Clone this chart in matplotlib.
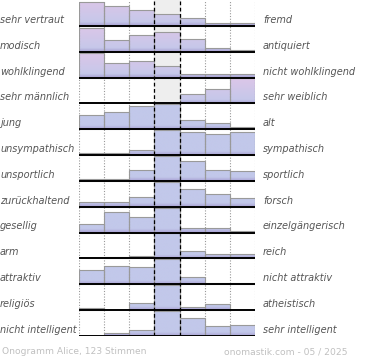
import numpy as np
import matplotlib
matplotlib.use("Agg")
import matplotlib.pyplot as plt
from matplotlib.path import Path
from matplotlib.patches import PathPatch, Rectangle

# =====================
# DATA
# =====================
left_labels = ["sehr vertraut", "modisch", "wohlklingend", "sehr männlich", "jung",
               "unsympathisch", "unsportlich", "zurückhaltend", "gesellig", "arm",
               "attraktiv", "religiös", "nicht intelligent"]
right_labels = ["fremd", "antiquiert", "nicht wohlklingend", "sehr weiblich", "alt",
                "sympathisch", "sportlich", "forsch", "einzelgängerisch", "reich",
                "nicht attraktiv", "atheistisch", "sehr intelligent"]

# bar heights per row (7 bins, max = 25)
values = [
    [24, 20, 16, 12, 8, 3, 3],
    [24, 12, 17, 20, 13, 4, 2],
    [24, 14, 16, 12, 3.5, 3.5, 3.5],
    [0, 0, 0, 0, 9, 14, 25],
    [14, 17, 23, 25, 9, 6, 2],
    [2, 2, 5, 25, 23, 21, 23],
    [2, 2, 11, 25, 20, 11, 10],
    [5, 5, 10, 25, 18, 13, 9],
    [9, 21, 16, 25, 5, 5, 1.5],
    [0, 1, 2, 25, 7, 4, 4],
    [14, 18, 17, 25, 7, 1.5, 1.5],
    [2, 0, 7, 25, 3, 6, 0],
    [0, 3, 6, 25, 18, 10, 11],
]
footer_left = "Onogramm Alice, 123 Stimmen"
footer_right = "onomastik.com - 05 / 2025"

# =====================
# FIGURE
# =====================
W, H = 370, 360
fig = plt.figure(figsize=(W / 100, H / 100), dpi=100)
ax = fig.add_axes([79 / W, 1 - 336 / H, 176 / W, 336 / H])
nrows = len(values)
ax.set_xlim(0, 7)
ax.set_ylim(0, nrows)
ax.axis("off")

ax.axvspan(3, 4, color="#eeeeee", zorder=0)

# gradient image: pink-ish in top rows, blue below, darker band at bottom of each row
pink = np.array([220, 198, 232]) / 255
blue = np.array([194, 200, 234]) / 255
dark = np.array([168, 160, 210]) / 255
res = 100
img = np.zeros((nrows * res, 1, 3))
for r in range(nrows):
    t = np.linspace(0, 1, res)
    if r < 4:
        col = pink[None, :] * (1 - t[:, None]) + blue[None, :] * t[:, None]
    else:
        col = np.repeat(blue[None, :], res, axis=0)
    band = t > 0.85
    k = ((t[band] - 0.85) / 0.15)[:, None]
    col[band] = col[band] * (1 - k) + dark[None, :] * k
    img[r * res:(r + 1) * res, 0, :] = col

verts, codes = [], []
rects = []
for r, row in enumerate(values):
    base = nrows - 1 - r
    for b, v in enumerate(row):
        if v <= 0:
            continue
        h = v / 25 * 0.97
        x0, x1, y0, y1 = b, b + 1, base, base + h
        verts += [(x0, y0), (x1, y0), (x1, y1), (x0, y1), (x0, y0)]
        codes += [Path.MOVETO, Path.LINETO, Path.LINETO, Path.LINETO, Path.CLOSEPOLY]
        rects.append((x0, y0, h))

clip = PathPatch(Path(verts, codes), transform=ax.transData, facecolor="none", edgecolor="none")
ax.add_patch(clip)
im = ax.imshow(img, extent=(0, 7, 0, nrows), aspect="auto", interpolation="bilinear", zorder=1)
im.set_clip_path(clip)

for x0, y0, h in rects:
    ax.add_patch(Rectangle((x0, y0), 1, h, facecolor="none", edgecolor="#9a9a9a",
                           linewidth=0.8, zorder=2))

# grid
for x in [0, 1, 2, 5, 6, 7]:
    ax.axvline(x, color="#999999", linestyle=(0, (1, 1.5)), linewidth=0.8, zorder=3)
for x in [3, 4]:
    ax.axvline(x, color="black", linestyle=(0, (3, 2)), linewidth=0.9, zorder=3)
for r in range(nrows):
    ax.plot([0, 7], [nrows - 1 - r] * 2, color="black", linewidth=1.4, zorder=4,
            solid_capstyle="butt")

# labels
for r in range(nrows):
    y = 1 - (25.8 * r + 20) / H
    fig.text(0 / W, y, left_labels[r], ha="left", va="center", fontsize=7,
             style="italic", color="#555555")
    fig.text(263 / W, y, right_labels[r], ha="left", va="center", fontsize=7,
             style="italic", color="#555555")

fig.text(2 / W, 1 - 352 / H, footer_left, ha="left", va="center", fontsize=6.6, color="#c0c0c0")
fig.text(347 / W, 1 - 352 / H, footer_right, ha="right", va="center", fontsize=6.6, color="#c0c0c0")

fig.savefig("out.png", dpi=100)
